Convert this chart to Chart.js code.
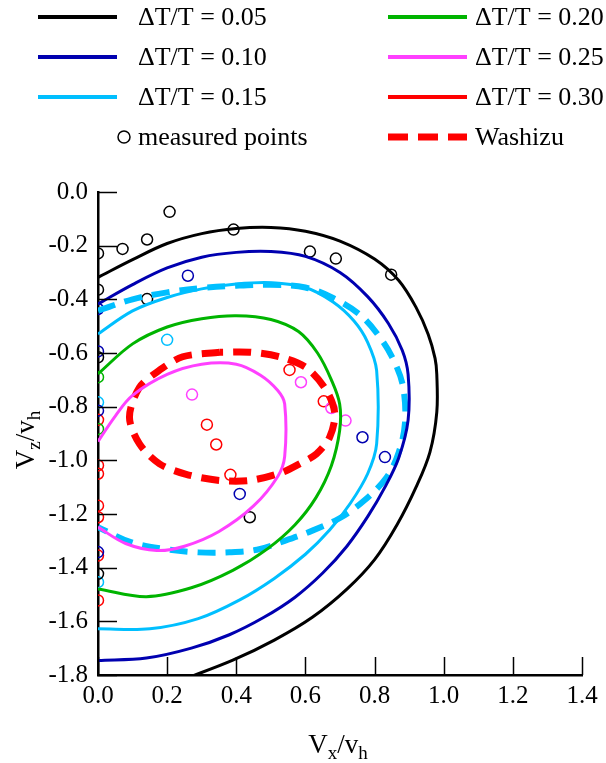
<!DOCTYPE html>
<html>
<head>
<meta charset="utf-8">
<script src="https://cdn.jsdelivr.net/npm/chart.js@4"></script>
<style>
  body { margin: 0; background: #fff; }
  canvas { display: block; }
</style>
</head>
<body>
<canvas id="myChart" width="606" height="763"></canvas>
<script>
// contour curves, [Vx/vh, Vz/vh]
const curve005 = [[0,-0.318],[0.1,-0.252],[0.2,-0.192],[0.3,-0.155],[0.4,-0.136],[0.5,-0.132],[0.6,-0.146],[0.7,-0.183],[0.8,-0.25],[0.87,-0.33],[0.92,-0.43],[0.955,-0.53],[0.975,-0.62],[0.98,-0.68],[0.98,-0.82],[0.96,-0.97],[0.92,-1.1],[0.865,-1.24],[0.8,-1.37],[0.72,-1.48],[0.62,-1.585],[0.51,-1.67],[0.39,-1.745],[0.27,-1.805],[0.15,-1.86]];
const curve010 = [[0,-0.417],[0.1,-0.345],[0.2,-0.283],[0.3,-0.243],[0.4,-0.225],[0.5,-0.222],[0.6,-0.24],[0.7,-0.3],[0.78,-0.39],[0.84,-0.49],[0.88,-0.59],[0.897,-0.68],[0.897,-0.85],[0.87,-0.99],[0.83,-1.1],[0.78,-1.21],[0.72,-1.32],[0.65,-1.42],[0.57,-1.51],[0.48,-1.585],[0.38,-1.65],[0.27,-1.7],[0.14,-1.737],[0,-1.746]];
const curve015 = [[0,-0.529],[0.1,-0.443],[0.2,-0.393],[0.3,-0.361],[0.4,-0.343],[0.5,-0.338],[0.6,-0.356],[0.68,-0.41],[0.74,-0.48],[0.78,-0.56],[0.806,-0.666],[0.806,-0.939],[0.78,-1.05],[0.73,-1.16],[0.67,-1.26],[0.6,-1.35],[0.51,-1.44],[0.41,-1.52],[0.29,-1.59],[0.15,-1.628],[0,-1.628]];
const curve020 = [[0,-0.678],[0.1,-0.566],[0.2,-0.503],[0.3,-0.472],[0.4,-0.461],[0.5,-0.475],[0.58,-0.52],[0.635,-0.6],[0.675,-0.7],[0.699,-0.79],[0.699,-0.889],[0.675,-1.02],[0.63,-1.14],[0.57,-1.24],[0.49,-1.33],[0.39,-1.41],[0.27,-1.475],[0.14,-1.508],[0,-1.479]];
const curve025 = [[0,-0.93],[0.05,-0.835],[0.1,-0.758],[0.2,-0.68],[0.3,-0.642],[0.4,-0.642],[0.47,-0.683],[0.52,-0.74],[0.54,-0.79],[0.54,-0.985],[0.52,-1.06],[0.45,-1.17],[0.35,-1.265],[0.25,-1.32],[0.17,-1.336],[0.08,-1.31],[0,-1.249]];
const curve030 = [];
const washizu030 = [[0.352,-0.597],[0.245,-0.614],[0.178,-0.664],[0.12,-0.728],[0.091,-0.839],[0.12,-0.939],[0.178,-1.013],[0.255,-1.052],[0.352,-1.075],[0.439,-1.075],[0.53,-1.046],[0.583,-1.013],[0.632,-0.976],[0.67,-0.914],[0.685,-0.827],[0.661,-0.74],[0.603,-0.655],[0.525,-0.614],[0.439,-0.597],[0.352,-0.597]];
const washizu015 = [[0,-0.442],[0.1,-0.4],[0.2,-0.374],[0.3,-0.358],[0.4,-0.349],[0.5,-0.346],[0.6,-0.356],[0.68,-0.395],[0.76,-0.46],[0.82,-0.55],[0.86,-0.64],[0.883,-0.73],[0.888,-0.86],[0.87,-0.97],[0.835,-1.063],[0.77,-1.15],[0.7,-1.215],[0.62,-1.262],[0.54,-1.3],[0.46,-1.333],[0.38,-1.343],[0.29,-1.343],[0.19,-1.33],[0.095,-1.305],[0,-1.249]];

// measured points
const meas005 = [[0,-0.229],[0.071,-0.212],[0.142,-0.177],[0.207,-0.074],[0.392,-0.14],[0.613,-0.222],[0.688,-0.248],[0.848,-0.308],[0,-0.364],[0.142,-0.399],[0,-0.616],[0.439,-1.212],[0,-1.423]];
const meas010 = [[0.26,-0.312],[0,-0.436],[0,-0.594],[0,-0.815],[0.765,-0.914],[0.83,-0.988],[0.41,-1.125],[0,-1.342]];
const meas015 = [[0.2,-0.551],[0,-0.784],[0,-1.454]];
const meas020 = [[0,-0.69],[0,-0.883]];
const meas025 = [[0.272,-0.755],[0.587,-0.709],[0.675,-0.805],[0.716,-0.852]];
const meas030 = [[0.315,-0.867],[0.342,-0.941],[0.554,-0.663],[0.653,-0.78],[0.383,-1.054],[0,-0.849],[0,-1.019],[0,-1.05],[0,-1.169],[0,-1.212],[0,-1.355],[0,-1.522]];

const labels = ["ΔT/T = 0.05", "ΔT/T = 0.10", "ΔT/T = 0.15", "ΔT/T = 0.20", "ΔT/T = 0.25", "ΔT/T = 0.30"];
const colors = ["#000000", "#0000b0", "#00bfff", "#00b400", "#ff40ff", "#ff0000"];
const xTicks = [0, 0.2, 0.4, 0.6, 0.8, 1.0, 1.2, 1.4];
const yTicks = [0, -0.2, -0.4, -0.6, -0.8, -1.0, -1.2, -1.4, -1.6, -1.8];

const FONT = "'Liberation Serif', 'Times New Roman', serif";
const pts = (a) => a.map((p) => ({ x: p[0], y: p[1] }));

const curves = [curve005, curve010, curve015, curve020, curve025, curve030];
const meas = [meas005, meas010, meas015, meas020, meas025, meas030];

const datasets = [];
curves.forEach((c, i) => {
  datasets.push({
    label: labels[i], data: pts(c), showLine: true, borderColor: colors[i],
    borderWidth: 3, pointRadius: 0, tension: 0.35, fill: false,
  });
});
datasets.push({
  label: "Washizu", data: pts(washizu030), showLine: true, borderColor: "#ff0000",
  borderWidth: 7, borderDash: [18, 10], pointRadius: 0, tension: 0.3,
});
datasets.push({
  label: "Washizu 0.15", data: pts(washizu015), showLine: true, borderColor: "#00bfff",
  borderWidth: 6, borderDash: [18, 10], pointRadius: 0, tension: 0.35,
});
meas.forEach((m, i) => {
  datasets.push({
    label: "measured " + labels[i], data: pts(m), showLine: false,
    pointRadius: 5.5, pointBorderWidth: 1.5, pointBorderColor: colors[i],
    pointBackgroundColor: "rgba(0,0,0,0)",
  });
});

// legend, tick marks and axis titles
const extras = {
  id: "extras",
  afterDraw(chart) {
    const c = chart.ctx;
    const area = chart.chartArea;
    c.save();
    // inward tick marks
    c.strokeStyle = "#000";
    c.lineWidth = 1.5;
    const xs = chart.scales.x, ys = chart.scales.y;
    xTicks.forEach((v) => {
      const px = Math.round(xs.getPixelForValue(v)) + 0.5;
      c.beginPath(); c.moveTo(px, area.bottom); c.lineTo(px, area.bottom - 18); c.stroke();
    });
    yTicks.forEach((v) => {
      const py = Math.round(ys.getPixelForValue(v)) + 0.5;
      c.beginPath(); c.moveTo(area.left, py); c.lineTo(area.left + 19, py); c.stroke();
    });

    // legend
    c.textBaseline = "middle";
    c.fillStyle = "#000";
    c.font = "26px " + FONT;
    const rowY = [17, 57, 97];
    for (let i = 0; i < 6; i++) {
      const col = i < 3 ? 0 : 1;
      const y = rowY[i % 3];
      const x0 = col ? 388 : 38;
      c.strokeStyle = colors[i];
      c.lineWidth = 4;
      c.setLineDash([]);
      c.beginPath(); c.moveTo(x0, y); c.lineTo(x0 + 79, y); c.stroke();
      c.fillText(labels[i], col ? 475 : 138, y + 1);
    }
    c.strokeStyle = "#000";
    c.lineWidth = 1.5;
    c.beginPath(); c.arc(124, 137, 6, 0, Math.PI * 2); c.stroke();
    c.fillText("measured points", 138, 138);
    c.strokeStyle = "#ff0000";
    c.lineWidth = 7;
    c.setLineDash([20, 10]);
    c.beginPath(); c.moveTo(388, 137); c.lineTo(467, 137); c.stroke();
    c.setLineDash([]);
    c.fillText("Washizu", 475, 138);

    // axis titles with subscripts
    const drawTitle = (parts, cx, cy) => {
      let w = 0;
      parts.forEach((p) => { c.font = (p[1] ? 19 : 27) + "px " + FONT; w += c.measureText(p[0]).width; });
      let x = cx - w / 2;
      c.textAlign = "left";
      c.textBaseline = "alphabetic";
      parts.forEach((p) => {
        c.font = (p[1] ? 19 : 27) + "px " + FONT;
        c.fillText(p[0], x, cy + (p[1] ? 6 : 0));
        x += c.measureText(p[0]).width;
      });
    };
    c.fillStyle = "#000";
    drawTitle([["V", 0], ["x", 1], ["/v", 0], ["h", 1]], 338, 753);
    c.translate(34, 440);
    c.rotate(-Math.PI / 2);
    drawTitle([["V", 0], ["z", 1], ["/v", 0], ["h", 1]], 0, 0);
    c.restore();
  },
};

const ctx = document.getElementById("myChart").getContext("2d");
let chart = new Chart(ctx, {
  type: "scatter",
  data: { datasets: datasets },
  options: {
    responsive: false,
    animation: false,
    layout: { padding: { top: 192, right: 24, left: 0, bottom: 0 } },
    plugins: { legend: { display: false }, tooltip: { enabled: false } },
    scales: {
      x: {
        type: "linear", min: 0, max: 1.4,
        afterFit: (s) => { s.height = 88; },
        afterBuildTicks: (s) => { s.ticks = xTicks.map((v) => ({ value: v })); },
        grid: { display: false, drawTicks: false },
        border: { display: true, color: "#000", width: 2.5 },
        ticks: {
          padding: 6, color: "#000", font: { size: 25, family: FONT },
          callback: (v) => v.toFixed(1), maxRotation: 0,
        },
      },
      y: {
        type: "linear", min: -1.8, max: 0,
        afterFit: (s) => { s.width = 98; },
        afterBuildTicks: (s) => { s.ticks = yTicks.map((v) => ({ value: v })); },
        grid: { display: false, drawTicks: false },
        border: { display: true, color: "#000", width: 2.5 },
        ticks: {
          padding: 10, color: "#000", font: { size: 25, family: FONT },
          callback: (v) => v.toFixed(1),
        },
      },
    },
  },
  plugins: [extras],
});
</script>
</body>
</html>
